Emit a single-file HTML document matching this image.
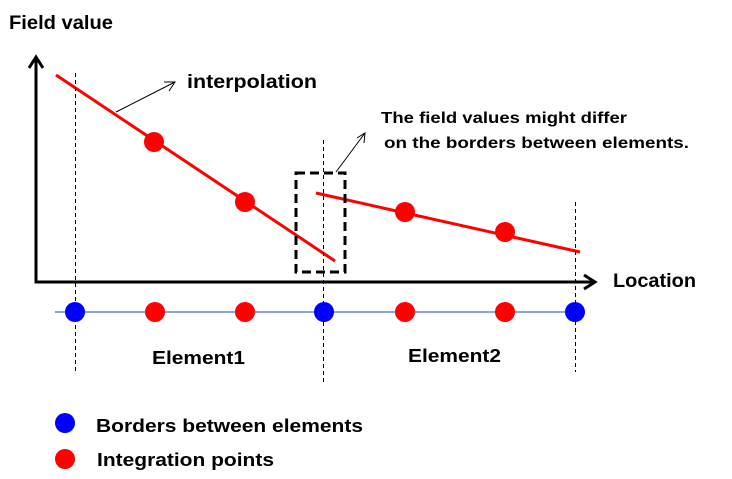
<!DOCTYPE html>
<html><head><meta charset="utf-8"><style>
html,body{margin:0;padding:0;background:#fff;}
svg{display:block}
text{font-family:"Liberation Sans",sans-serif;font-weight:bold;fill:#000;}
</style></head><body>
<svg width="732" height="479" viewBox="0 0 732 479" xmlns="http://www.w3.org/2000/svg">
<rect width="732" height="479" fill="#fff"/>
<!-- axes -->
<polyline points="36,58 36,282 594,282" fill="none" stroke="#000" stroke-width="3"/>
<polyline points="29,68 36,57 43,68" fill="none" stroke="#000" stroke-width="3"/>
<polyline points="584,275 595,282 584,289" fill="none" stroke="#000" stroke-width="3"/>
<!-- blue line -->
<line x1="55" y1="312" x2="585" y2="312" stroke="#4472C4" stroke-width="1.3"/>
<!-- red lines -->
<line x1="56" y1="75" x2="335" y2="261" stroke="#f00" stroke-width="3"/>
<line x1="316" y1="193" x2="580" y2="252" stroke="#f00" stroke-width="3"/>
<!-- dots -->
<g fill="#f00">
<circle cx="154" cy="142" r="10"/><circle cx="245" cy="202" r="10"/>
<circle cx="405" cy="212" r="10"/><circle cx="505" cy="232" r="10"/>
<circle cx="155" cy="312" r="10"/><circle cx="245" cy="312" r="10"/>
<circle cx="405" cy="312" r="10"/><circle cx="505" cy="312" r="10"/>
<circle cx="65" cy="459" r="10"/>
</g>
<g fill="#00f">
<circle cx="75" cy="312" r="10"/><circle cx="324" cy="312" r="10"/><circle cx="575" cy="312" r="10"/>
<circle cx="65" cy="423" r="10"/>
</g>
<!-- dashed verticals -->
<g stroke="#000" stroke-width="1" stroke-dasharray="4,3">
<line x1="75.5" y1="73" x2="75.5" y2="372"/>
<line x1="323.5" y1="140" x2="323.5" y2="382"/>
<line x1="575.5" y1="202" x2="575.5" y2="372"/>
</g>
<!-- dashed box -->
<rect x="296" y="173" width="49" height="99" fill="none" stroke="#000" stroke-width="3" stroke-dasharray="9,5"/>
<!-- callout arrows -->
<g stroke="#000" stroke-width="1" fill="none">
<line x1="116" y1="112" x2="175" y2="82"/>
<polyline points="164,82 175,82 169,91"/>
<line x1="336" y1="172" x2="365" y2="133"/>
<polyline points="357,138 365,133 364,143"/>
</g>
<!-- labels -->
<text x="9" y="29" font-size="19" textLength="104" lengthAdjust="spacingAndGlyphs">Field value</text>
<text x="187" y="88" font-size="19" textLength="130" lengthAdjust="spacingAndGlyphs">interpolation</text>
<text x="381" y="123" font-size="16" textLength="246" lengthAdjust="spacingAndGlyphs">The field values might differ</text>
<text x="384" y="148" font-size="16" textLength="305" lengthAdjust="spacingAndGlyphs">on the borders between elements.</text>
<text x="613" y="287" font-size="19" textLength="83" lengthAdjust="spacingAndGlyphs">Location</text>
<text x="152" y="364" font-size="18" textLength="93" lengthAdjust="spacingAndGlyphs">Element1</text>
<text x="408" y="362" font-size="18" textLength="93" lengthAdjust="spacingAndGlyphs">Element2</text>
<text x="96" y="432" font-size="18" textLength="267" lengthAdjust="spacingAndGlyphs">Borders between elements</text>
<text x="97" y="466" font-size="18" textLength="177" lengthAdjust="spacingAndGlyphs">Integration points</text>
</svg>
</body></html>
